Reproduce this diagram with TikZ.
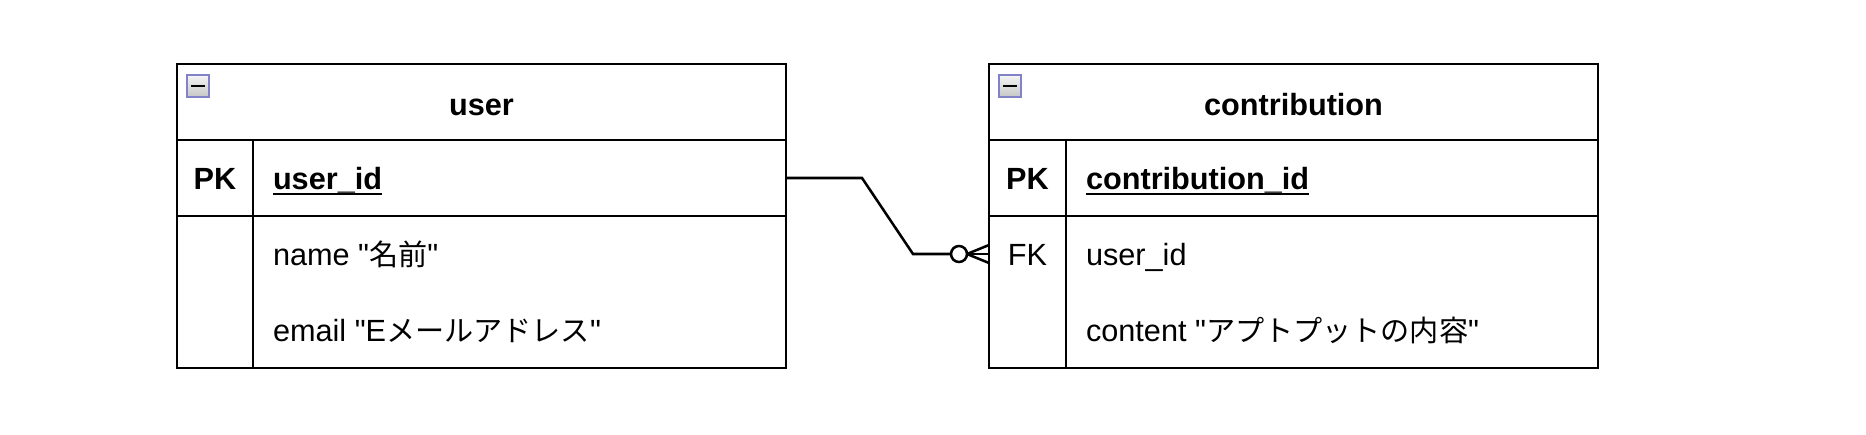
\documentclass[tikz,border=0pt]{standalone}
\usepackage{fontspec}
\setmainfont{Liberation Sans}[Ligatures=TeXOff]
\newfontfamily\jp[Scale=0.95]{Noto Sans CJK JP}
\usepackage{tikz}
\usetikzlibrary{shapes,arrows,calc,positioning}

\newcommand{\tabfont}{\fontsize{23}{28}\selectfont}
\newcommand{\keyfield}[1]{\setbox0\hbox{#1}\rlap{\rule[-4.5pt]{\wd0}{2pt}}\box0}

\begin{document}
\begin{tikzpicture}[x=0.75pt, y=-0.75pt, line width=1.9pt,
  every node/.style={inner sep=0pt, outer sep=0pt, font=\tabfont, text height=19.5pt, text depth=2.5pt},
  cell/.style={draw, anchor=north west, minimum height=57pt},
  head/.style={cell, font=\tabfont\bfseries, text depth=0pt},
  field/.style={cell, text width=#1, align=left},
  row/.style={anchor=west},
  icon/.style={draw=gray!60!blue!70, line width=1.2pt, top color=gray!8, bottom color=gray!45, minimum size=16.5pt, text height=, text depth=, anchor=north west}]

\useasboundingbox (0,0) rectangle (1866,435);

%user
\node [head, minimum width=456.75pt](uhead) at (177,64){user};
\node [cell, minimum width=57pt, font=\tabfont\bfseries](ukey) at (177,140){PK};
\node [field=369.75pt, minimum width=399.75pt, font=\tabfont\bfseries](upk) at (253,140){\keyfield{user\_id}};
\node [cell, minimum width=57pt, minimum height=114pt](ukeys) at (177,216){};
\node [cell, minimum width=399.75pt, minimum height=114pt](ufields) at (253,216){};
\node [row](uname) at (273,254){name "{\jp 名前}"};
\node [row](uemail) at (273,330){email "E{\jp メールアドレス}"};
\node [icon](uicon) at ([xshift=7.5pt,yshift=-8.25pt]uhead.north west){};
\draw [line width=2pt] ([xshift=3pt]uicon.west) -- ([xshift=-3pt]uicon.east);

%contribution
\node [head, minimum width=456.75pt](chead) at (989,64){contribution};
\node [cell, minimum width=57.75pt, font=\tabfont\bfseries](ckey) at (989,140){PK};
\node [field=369pt, minimum width=399pt, font=\tabfont\bfseries](cpk) at (1066,140){\keyfield{contribution\_id}};
\node [cell, minimum width=57.75pt, minimum height=114pt](ckeys) at (989,216){};
\node [cell, minimum width=399pt, minimum height=114pt](cfields) at (1066,216){};
\node (cfk) at (1027.5,254){FK};
\node [row](cuser) at (1086,254){user\_id};
\node [row](ccontent) at (1086,330){content "{\jp アプトプットの内容}"};
\node [icon](cicon) at ([xshift=7.5pt,yshift=-8.25pt]chead.north west){};
\draw [line width=2pt] ([xshift=3pt]cicon.west) -- ([xshift=-3pt]cicon.east);

%arrows
\coordinate (fkend) at (ckeys.west |- cfk);
\draw (upk.east) -- ++(76,0) -- ([xshift=-57pt]fkend) -- ([xshift=-28.5pt]fkend);
\draw ([xshift=-22.5pt]fkend) circle (6pt);
\draw ([xshift=-16.5pt]fkend) -- ([yshift=6.75pt]fkend);
\draw ([xshift=-16.5pt]fkend) -- (fkend);
\draw ([xshift=-16.5pt]fkend) -- ([yshift=-6.75pt]fkend);

\end{tikzpicture}
\end{document}
